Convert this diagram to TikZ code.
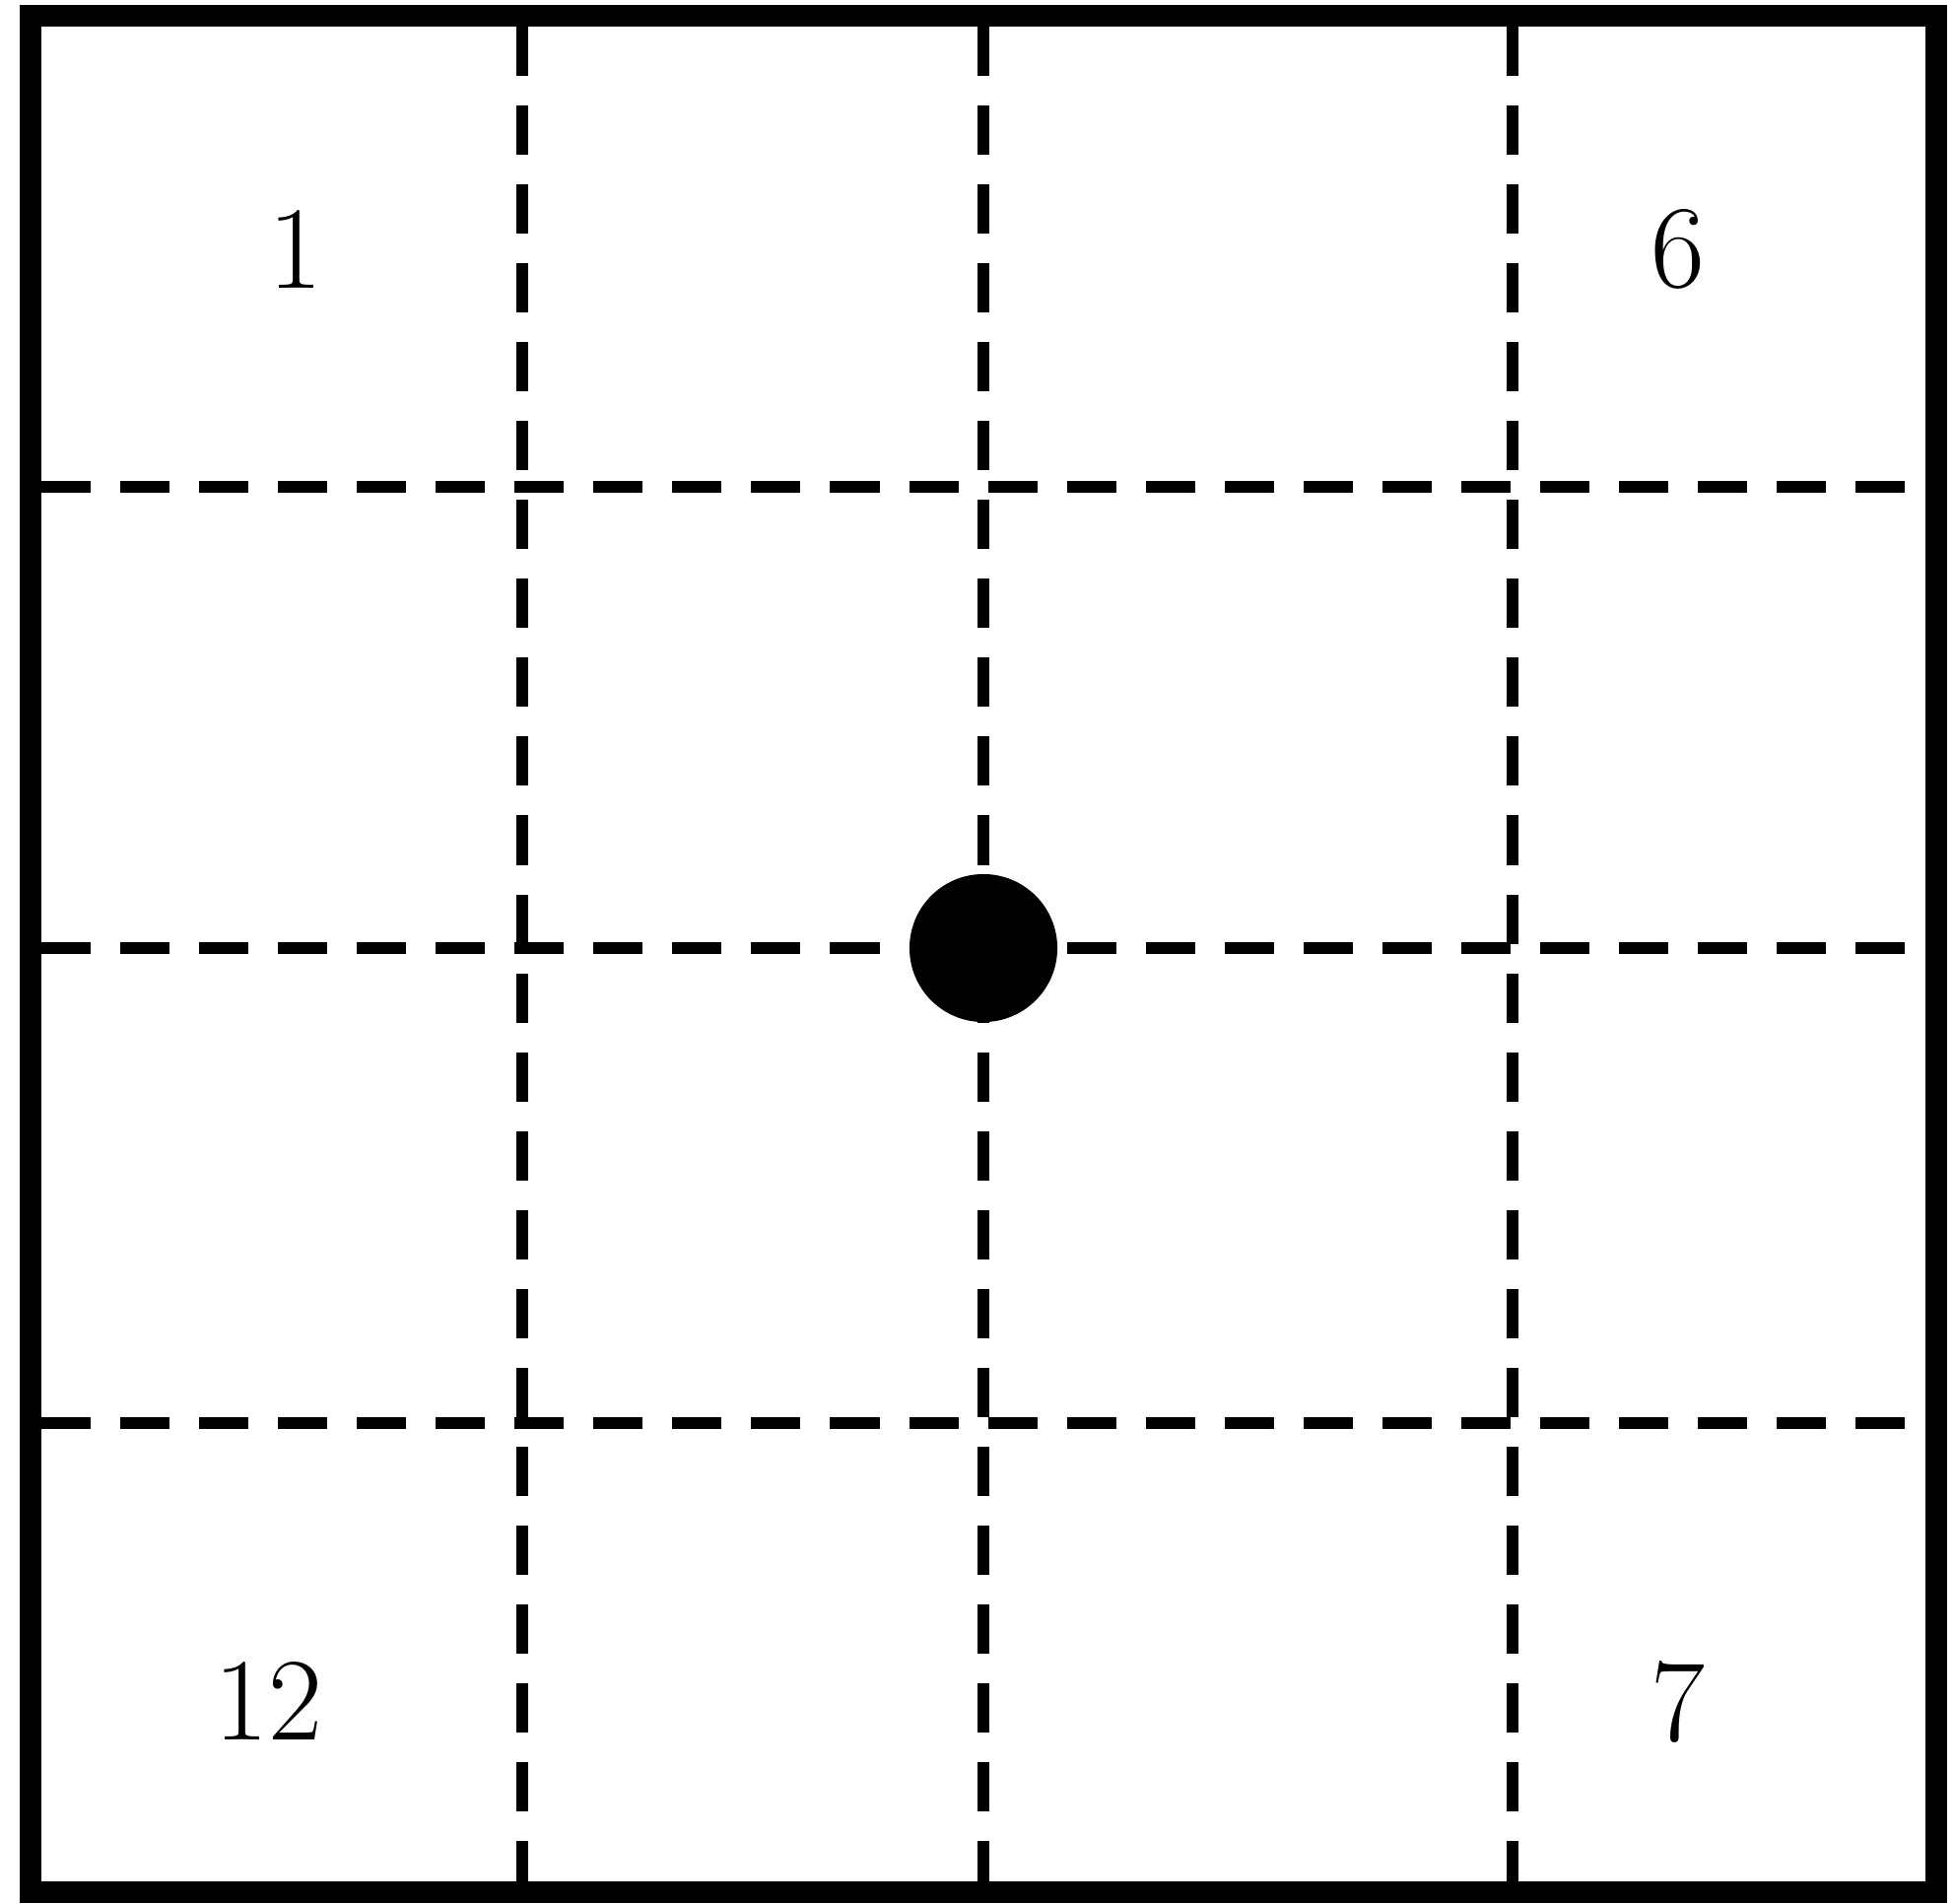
\documentclass[tikz,border=0pt]{standalone}
\usepackage{tikz}

\begin{document}
\begin{tikzpicture}[x=0.01cm, y=-0.01cm,
  frame/.style={line width=6.3pt},
  gridline/.style={line width=3.6pt, dash pattern=on 0.5cm off 0.3cm},
  num/.style={font=\fontsize{34}{40}\selectfont, inner sep=0pt},
  dot/.style={circle, fill=black, minimum size=1.5cm, inner sep=0pt}
]
  \useasboundingbox (0,0) rectangle (1983,1931);

  % Outer frame
  \draw[frame] (31,16) rectangle (1965,1920);

  % Dashed grid, 4 x 4 cells
  \foreach \x in {530,998,1535} \draw[gridline] (\x,27) -- (\x,1909);
  \foreach \y in {494,962,1444} \draw[gridline] (42,\y) -- (1954,\y);

  % Centre point
  \node[dot] (c) at (998,962) {};

  % Corner numbers
  \node[num] (n1)  at (300,253)  {1};
  \node[num] (n6)  at (1703,253) {6};
  \node[num] (n12) at (272,1726) {12};
  \node[num] (n7)  at (1703,1727) {7};
\end{tikzpicture}
\end{document}
